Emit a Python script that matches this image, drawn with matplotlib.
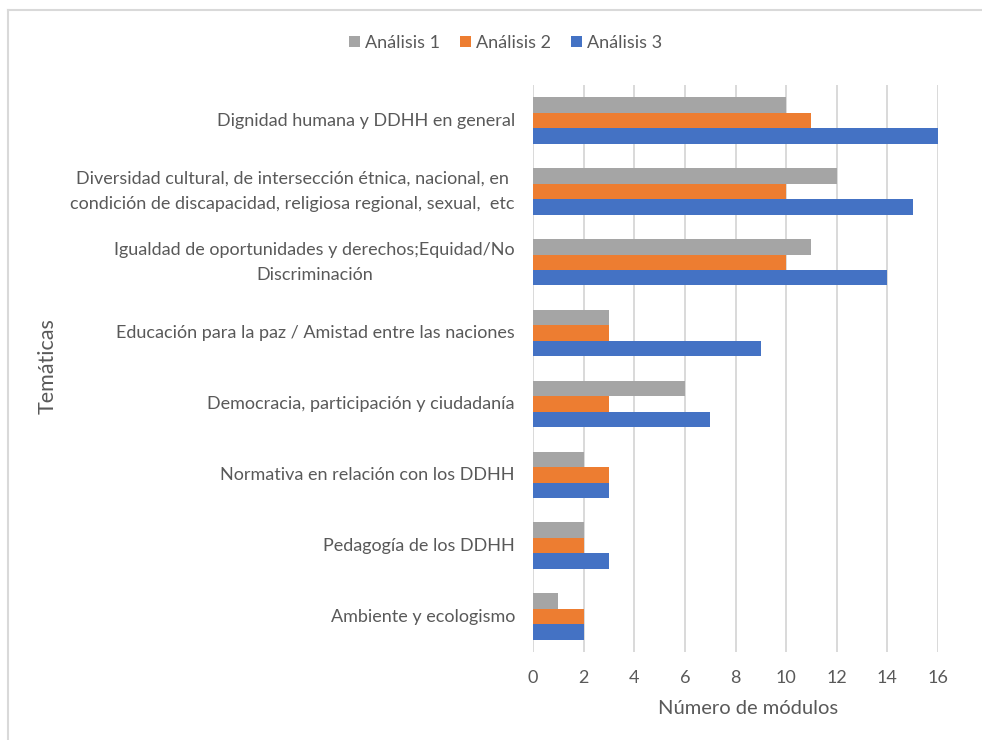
import matplotlib.pyplot as plt
import numpy as np
from matplotlib.lines import Line2D

plt.rcParams["font.family"] = ["Lato", "DejaVu Sans"]

# temáticas, de arriba hacia abajo
tematicas = [
    "Dignidad humana y DDHH en general",
    "Diversidad cultural, de intersección étnica, nacional, en\n"
    "condición de discapacidad, religiosa regional, sexual,  etc",
    "Igualdad de oportunidades y derechos;Equidad/No\nDiscriminación",
    "Educación para la paz / Amistad entre las naciones",
    "Democracia, participación y ciudadanía",
    "Normativa en relación con los DDHH",
    "Pedagogía de los DDHH",
    "Ambiente y ecologismo",
]
analisis_1 = [10, 12, 11, 3, 6, 2, 2, 1]
analisis_2 = [11, 10, 10, 3, 3, 3, 2, 2]
analisis_3 = [16, 15, 14, 9, 7, 3, 3, 2]
series = ["Análisis 1", "Análisis 2", "Análisis 3"]
colores = ["#A5A5A5", "#ED7D31", "#4472C4"]
xticks = [0, 2, 4, 6, 8, 10, 12, 14, 16]

TXT = "#595959"
GRID = "#D9D9D9"

fig = plt.figure(figsize=(9.82, 7.4), dpi=100)
ax = fig.add_axes([0.5428, 0.119, 0.4124, 0.766])

y = np.arange(len(tematicas))
h = 0.218
for k, (vals, nombre, c) in enumerate(zip([analisis_1, analisis_2, analisis_3], series, colores)):
    ax.barh(y + (k - 1) * h, vals, height=h, color=c, label=nombre, zorder=3)

ax.set_ylim(len(tematicas) - 0.5, -0.5)
ax.set_xlim(0, 16)
ax.set_xticks(xticks)
ax.set_yticks(y)
ax.set_yticklabels(tematicas, multialignment="center", linespacing=1.7, va="center")
ax.tick_params(axis="x", length=0, labelsize=13, colors=TXT, pad=13)
ax.tick_params(axis="y", length=0, labelsize=13, colors=TXT, pad=13)
ax.grid(axis="x", color=GRID, linewidth=1.4, zorder=0)
for s in ax.spines.values():
    s.set_visible(False)

ax.set_xlabel("Número de módulos", fontsize=14.5, color=TXT)
ax.xaxis.set_label_coords(0.531, -0.085)
fig.text(0.049, 0.505, "Temáticas", rotation=90, fontsize=15.5, color=TXT,
         ha="center", va="center")

fig.legend(loc="center", bbox_to_anchor=(0.515, 0.942), ncol=3, frameon=False,
           fontsize=13, labelcolor=TXT, handlelength=0.6, handleheight=0.6,
           handletextpad=0.3, columnspacing=1.1)

# marco del gráfico (arriba e izquierda)
fig.add_artist(Line2D([0.008, 1.0], [0.986, 0.986], color=GRID, lw=1.5,
                      transform=fig.transFigure))
fig.add_artist(Line2D([0.008, 0.008], [0.0, 0.986], color=GRID, lw=1.5,
                      transform=fig.transFigure))

fig.savefig("out.png", dpi=100)
